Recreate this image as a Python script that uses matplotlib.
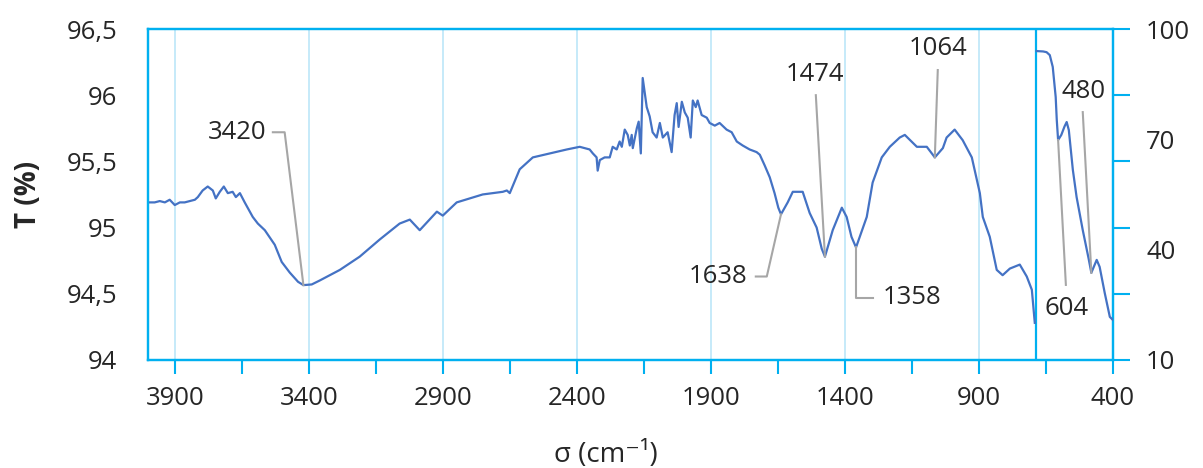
import numpy as np
import matplotlib.pyplot as plt
from matplotlib.ticker import FixedLocator, FuncFormatter

plt.rcParams['font.family'] = ['Open Sans', 'DejaVu Sans']

# left series (primary axis, T %)
wn_left = [4000, 3975, 3956, 3937, 3919, 3900, 3881, 3863, 3844, 3825,
           3814, 3796, 3777, 3758, 3747, 3732, 3717, 3702, 3684, 3672,
           3657, 3639, 3628, 3609, 3590, 3564, 3527, 3501, 3471, 3440,
           3420, 3389, 3359, 3284, 3210, 3135, 3061, 3023, 2986, 2922,
           2900, 2848, 2751, 2676, 2661, 2650, 2613, 2564, 2501, 2437,
           2389, 2352, 2340, 2326, 2322, 2314, 2296, 2277, 2266, 2251,
           2240, 2232, 2221, 2210, 2202, 2195, 2191, 2176, 2169, 2161,
           2154, 2139, 2128, 2117, 2102, 2090, 2079, 2061, 2046, 2035,
           2027, 2020, 2008, 1997, 1986, 1975, 1967, 1956, 1949, 1934,
           1915, 1904, 1885, 1867, 1841, 1822, 1803, 1781, 1755, 1729,
           1717, 1699, 1680, 1662, 1648, 1638, 1613, 1594, 1576, 1557,
           1531, 1505, 1486, 1474, 1445, 1411, 1393, 1375, 1358, 1318,
           1296, 1262, 1232, 1195, 1176, 1131, 1094, 1064, 1034, 1020,
           990, 960, 926, 896, 885, 859, 833, 811, 784, 747,
           721, 702, 691]
t_left = [95.19, 95.19, 95.20, 95.19, 95.21, 95.17, 95.19, 95.19, 95.20, 95.21,
          95.23, 95.28, 95.31, 95.28, 95.22, 95.27, 95.31, 95.26, 95.27, 95.23,
          95.26, 95.19, 95.15, 95.08, 95.03, 94.98, 94.87, 94.74, 94.66, 94.59,
          94.565, 94.57, 94.60, 94.68, 94.78, 94.91, 95.03, 95.06, 94.98, 95.12,
          95.09, 95.19, 95.25, 95.27, 95.28, 95.26, 95.44, 95.53, 95.56, 95.59,
          95.61, 95.59, 95.56, 95.53, 95.43, 95.51, 95.53, 95.53, 95.61, 95.59,
          95.65, 95.61, 95.74, 95.70, 95.62, 95.70, 95.60, 95.75, 95.80, 95.56,
          96.13, 95.91, 95.84, 95.72, 95.68, 95.79, 95.68, 95.72, 95.57, 95.85,
          95.94, 95.76, 95.95, 95.87, 95.83, 95.68, 95.96, 95.91, 95.96, 95.85,
          95.83, 95.79, 95.77, 95.79, 95.74, 95.72, 95.65, 95.62, 95.59, 95.57,
          95.55, 95.47, 95.38, 95.26, 95.15, 95.10, 95.19, 95.27, 95.27, 95.27,
          95.11, 95.00, 94.84, 94.78, 94.98, 95.15, 95.08, 94.93, 94.85, 95.08,
          95.34, 95.53, 95.61, 95.68, 95.70, 95.61, 95.61, 95.53, 95.60, 95.68,
          95.74, 95.66, 95.53, 95.26, 95.08, 94.93, 94.68, 94.64, 94.69, 94.72,
          94.63, 94.53, 94.28]

# right series (secondary axis)
wn_right = [684, 660, 647, 635, 624, 613, 609, 604, 592, 580, 572, 564, 549, 535,
            512, 490, 480, 460, 449, 430, 411, 400]
t_right = [94.0, 93.9, 93.7, 92.9, 89.7, 81.5, 75.3, 69.8, 71.2, 73.5, 74.7, 72.5, 61.7, 54.3,
           45.3, 37.5, 33.7, 37.2, 35.3, 28.2, 21.7, 20.9]

# peak labels: label, peak, text x, text y, ha, leader points before the peak
peaks_left = [
    ('3420', 3420, 3557, 95.72, 'right', [(3534, 95.72), (3490, 95.72)]),
    ('1638', 1638, 1762, 94.63, 'right', [(1732, 94.63), (1691, 94.63)]),
    ('1474', 1474, 1512, 96.16, 'center', [(1508, 96.00)]),
    ('1358', 1358, 1258, 94.47, 'left', [(1296, 94.47), (1358, 94.47)]),
    ('1064', 1064, 1053, 96.35, 'center', [(1053, 96.19)]),
]
peaks_right = [
    ('604', 604, 572, 23.9, 'center', [(575, 30.4)]),
    ('480', 480, 508, 83.1, 'center', [(512, 77.4)]),
]

blue = '#00B0F0'
line_c = '#4472C4'
grid_c = '#C6EAF9'
lead_c = '#A6A6A6'
txt_c = '#262626'
fs = 18.5

fig = plt.figure(figsize=(12.03, 4.68), dpi=100)
ax = fig.add_axes([0.123, 0.231, 0.802, 0.707])
ax2 = ax.twinx()

ax.plot(wn_left, t_left, color=line_c, lw=1.6, zorder=3)
ax2.plot(wn_right, t_right, color=line_c, lw=1.6, zorder=3)
ax.axvline(688, color=blue, lw=1.6, zorder=2)

ax.set_xlim(4000, 400)
ax.set_ylim(94, 96.5)
ax2.set_ylim(10, 100)

ax.set_xticks(np.arange(3900, 399, -500))
ax.xaxis.set_minor_locator(FixedLocator(np.arange(3650, 399, -500)))
ax.set_yticks(np.arange(94, 96.51, 0.5))
ax.yaxis.set_major_formatter(FuncFormatter(lambda v, p: ('%g' % v).replace('.', ',')))
ax.grid(axis='x', color=grid_c, lw=1.4, zorder=0)

ax.tick_params(axis='x', which='both', direction='out', length=10, width=1.5,
               color=blue, labelsize=fs, labelcolor=txt_c, pad=9)
ax.tick_params(axis='y', length=0, labelsize=fs, labelcolor=txt_c, pad=22)

ax2.set_yticks([10, 40, 70, 100])
ax2.yaxis.set_minor_locator(FixedLocator([10, 28, 46, 64, 82, 100]))
ax2.yaxis.remove_overlapping_locs = False
ax2.tick_params(axis='y', which='major', length=0, labelsize=fs, labelcolor=txt_c, pad=24)
ax2.tick_params(axis='y', which='minor', direction='out', length=12, width=1.5, color=blue)

for a in (ax, ax2):
    for s in a.spines.values():
        s.set_color(blue)
        s.set_linewidth(1.6)

ax.set_xlabel('σ (cm⁻¹)', fontsize=20, color=txt_c, va='center')
ax.xaxis.set_label_coords(0.4746, -0.287)
ax.set_ylabel('T (%)', fontsize=20, color=txt_c, fontweight='bold', va='center')
ax.yaxis.set_label_coords(-0.124, 0.5)


def label_peaks(a, peaks, xs, ys):
    order = np.argsort(xs)
    xs_s = np.array(xs)[order]
    ys_s = np.array(ys)[order]
    for lab, pk, tx, ty, ha, pts in peaks:
        py = np.interp(pk, xs_s, ys_s)
        px_list = [p[0] for p in pts] + [pk]
        py_list = [p[1] for p in pts] + [py]
        a.plot(px_list, py_list, color=lead_c, lw=1.5, zorder=4)
        a.text(tx, ty, lab, ha=ha, va='center', fontsize=fs, color=txt_c)


label_peaks(ax, peaks_left, wn_left, t_left)
label_peaks(ax2, peaks_right, wn_right, t_right)

fig.savefig('out.png', dpi=100)
